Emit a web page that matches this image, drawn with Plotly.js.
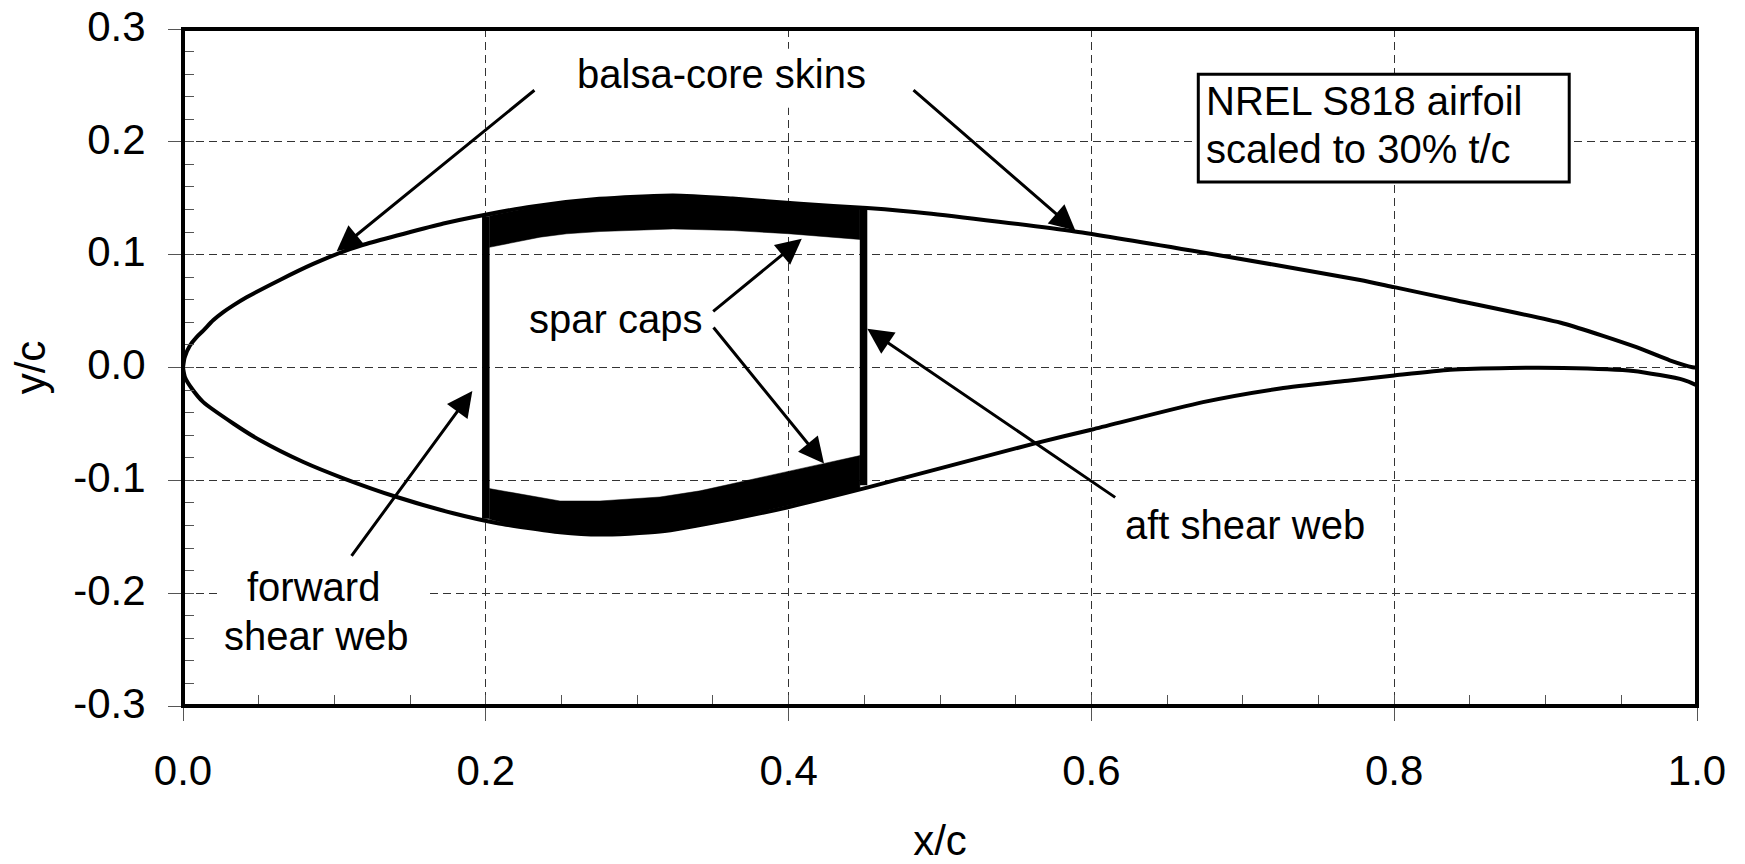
<!DOCTYPE html>
<html><head><meta charset="utf-8">
<script src="https://cdn.plot.ly/plotly-3.0.1.min.js"></script>
<style>html,body{margin:0;padding:0;background:#fff}#c{width:1745px;height:864px}</style>
</head><body><div id="c"></div>
<script>
const upperX=[0,0.0011,0.0046,0.009,0.0134,0.0199,0.0266,0.0332,0.042,0.064,0.086,0.1103,0.1215,0.172,0.198,0.231,0.275,0.3237,0.363,0.4075,0.4518,0.491,0.589,0.667,0.7775,0.8,0.8415,0.9117,0.96,0.982,0.997,1];
const upperY=[0,0.009,0.0195,0.027,0.0327,0.0418,0.049,0.055,0.0622,0.0776,0.0918,0.105,0.1097,0.1276,0.1350,0.1428,0.1495,0.1525,0.1497,0.1451,0.1413,0.1368,0.1206,0.1035,0.0776,0.0712,0.0594,0.039,0.018,0.0064,0.0003,0];
const lowerX=[0,0.0013,0.0057,0.0134,0.0332,0.0509,0.0795,0.1059,0.1412,0.1785,0.207,0.249,0.2754,0.315,0.3635,0.3996,0.4518,0.5627,0.6006,0.6737,0.7246,0.7708,0.8,0.837,0.8765,0.9117,0.958,0.991,1];
const lowerY=[0,-0.0086,-0.0184,-0.0307,-0.0496,-0.0645,-0.0838,-0.0982,-0.1148,-0.1292,-0.1378,-0.146,-0.1481,-0.1454,-0.1340,-0.1238,-0.1065,-0.0672,-0.0549,-0.0307,-0.0186,-0.0115,-0.0071,-0.002,-0.0004,-0.0004,-0.003,-0.0109,-0.0158];
const capTopX=[0.2023,0.2358,0.2534,0.2754,0.3238,0.3633,0.3996,0.4471];
const capTopOuter=[0.1345,0.1432,0.1465,0.1495,0.1518,0.1493,0.1456,0.1415];
const capTopInner=[0.1065,0.1155,0.1185,0.1205,0.1228,0.1214,0.1186,0.1135];
const capBotX=[0.2023,0.2202,0.249,0.2754,0.315,0.3415,0.3635,0.4229,0.4471];
const capBotOuter=[-0.1345,-0.1405,-0.1452,-0.1473,-0.1446,-0.1390,-0.1332,-0.1155,-0.1072];
const capBotInner=[-0.1073,-0.1116,-0.1183,-0.1183,-0.1148,-0.1093,-0.1029,-0.0852,-0.0781];
const webFwdX=[0.2,0.2], webFwdY=[0.134,-0.134];
const webAftX=[0.4495,0.4495], webAftY=[0.142,-0.1043];
const xTickVals=[0,0.2,0.4,0.6,0.8,1], xTickText=['0.0','0.2','0.4','0.6','0.8','1.0'];
const yTickVals=[-0.3,-0.2,-0.1,0,0.1,0.2,0.3], yTickText=['-0.3','-0.2','-0.1','0.0','0.1','0.2','0.3'];
const arrowTails=[[0.2331,0.2468],[0.4815,0.2470],[0.3492,0.0486],[0.3496,0.0368],[0.1106,-0.1683],[0.6167,-0.1160]];
const arrowTips=[[0.1015,0.1031],[0.5894,0.1214],[0.4087,0.1141],[0.4234,-0.0850],[0.1911,-0.0208],[0.4520,0.0343]];

const FONT='"Liberation Sans", Arial, sans-serif';
const skin={color:'#000',width:4,shape:'spline',smoothing:0.6};
function cap(x,a,b){return {x:x.concat(x.slice().reverse()),y:a.concat(b.slice().reverse()),mode:'lines',fill:'toself',fillcolor:'#000',line:{color:'#000',width:0.5},hoverinfo:'skip',showlegend:false};}
const traces=[
 cap(capTopX,capTopOuter,capTopInner),
 cap(capBotX,capBotOuter,capBotInner),
 {x:webFwdX,y:webFwdY,mode:'lines',line:{color:'#000',width:7.5},showlegend:false},
 {x:webAftX,y:webAftY,mode:'lines',line:{color:'#000',width:7.5},showlegend:false},
 {x:upperX,y:upperY,mode:'lines',line:skin,showlegend:false},
 {x:lowerX,y:lowerY,mode:'lines',line:skin,showlegend:false}
];
function label(text,x,y,extra){return Object.assign({text:text,x:x,y:y,xref:'x',yref:'y',showarrow:false,xanchor:'center',yanchor:'middle',font:{family:FONT,size:40,color:'#000'}},extra||{});}
const anns=[
 label('balsa-core skins',0.3554,0.2600),
 label('spar caps',0.2855,0.0433),
 label('aft shear web',0.7012,-0.1400),
 label('forward',0.0865,-0.1941),
 label('shear web',0.0885,-0.2380),
 label('NREL S818 airfoil',0.6745,0.2365,{xanchor:'left'}),
 label('scaled to 30% t/c',0.6745,0.1940,{xanchor:'left'})
];
arrowTails.forEach((t,i)=>anns.push({x:arrowTips[i][0],y:arrowTips[i][1],ax:t[0],ay:t[1],xref:'x',yref:'y',axref:'x',ayref:'y',text:'',showarrow:true,arrowhead:2,arrowsize:1.7,arrowwidth:3,arrowcolor:'#000',standoff:0,startstandoff:0}));
const axisCommon={showline:false,zeroline:false,showgrid:true,gridcolor:'#333',gridwidth:1,griddash:'8px,5px',ticks:'outside',ticklen:14,tickwidth:1,tickcolor:'#555',tickfont:{family:FONT,size:42,color:'#000'},tickmode:'array'};
const layout={
 width:1745,height:864,paper_bgcolor:'#fff',plot_bgcolor:'#fff',showlegend:false,
 margin:{l:183,r:48,t:29,b:158,pad:0},
 xaxis:Object.assign({},axisCommon,{range:[0,1],tickvals:xTickVals,ticktext:xTickText,ticklabelstandoff:14,
   minor:{tickmode:'linear',tick0:0,dtick:0.05,ticks:'inside',ticklen:11,tickwidth:1,tickcolor:'#555',showgrid:false},
   title:{text:'x/c',font:{family:FONT,size:42,color:'#000'},standoff:38}}),
 yaxis:Object.assign({},axisCommon,{range:[-0.3,0.3],tickvals:yTickVals,ticktext:yTickText,ticklabelstandoff:14,ticklabelshift:-3,
   minor:{tickmode:'linear',tick0:-0.3,dtick:0.02,ticks:'inside',ticklen:11,tickwidth:1,tickcolor:'#555',showgrid:false},
   title:{text:'y/c',font:{family:FONT,size:42,color:'#000'},standoff:14}}),
 shapes:[
  {type:'rect',xref:'x',yref:'y',x0:0.0225,x1:0.1618,y0:-0.212,y1:-0.188,line:{width:0},fillcolor:'#fff',layer:'between'},
  {type:'rect',xref:'x',yref:'y',x0:0.37,x1:0.43,y0:0.2303,y1:0.2826,line:{width:0},fillcolor:'#fff',layer:'between'},
  {type:'rect',xref:'x',yref:'y',x0:0.6706,x1:0.9156,y0:0.1644,y1:0.2599,line:{color:'#000',width:3},fillcolor:'#fff',layer:'between'},
  {type:'rect',xref:'paper',yref:'paper',x0:0,x1:1,y0:0,y1:1,line:{color:'#000',width:4},fillcolor:'rgba(0,0,0,0)',layer:'above'}
 ],
 annotations:anns
};
Plotly.newPlot('c',traces,layout,{displayModeBar:false,staticPlot:true});
</script></body></html>
